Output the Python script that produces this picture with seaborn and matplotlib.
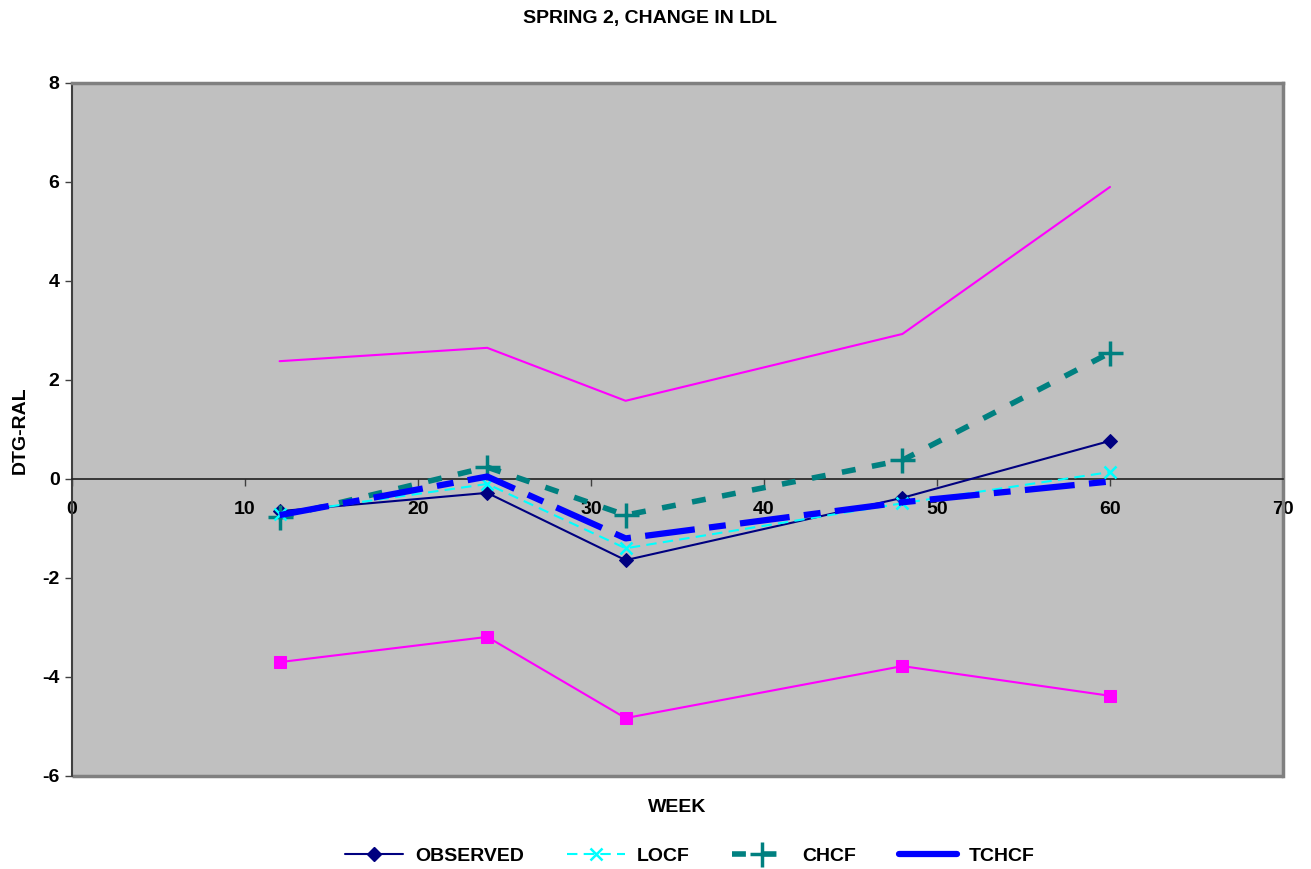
import matplotlib
matplotlib.use("Agg")
import matplotlib.pyplot as plt
import seaborn as sns
import pandas as pd
from matplotlib.patches import Rectangle
from matplotlib.lines import Line2D

weeks = [12, 24, 32, 48, 60]
observed = [-0.65, -0.28, -1.64, -0.38, 0.77]
locf = [-0.70, -0.10, -1.40, -0.49, 0.14]
chcf = [-0.77, 0.24, -0.73, 0.38, 2.55]
tchcf = [-0.73, 0.05, -1.20, -0.47, -0.05]
upper = [2.38, 2.65, 1.58, 2.93, 5.90]
lower = [-3.70, -3.19, -4.83, -3.78, -4.38]

title = "SPRING 2, CHANGE IN LDL"
xlabel = "WEEK"
ylabel = "DTG-RAL"
xticks = [0, 10, 20, 30, 40, 50, 60, 70]
yticks = [-6, -4, -2, 0, 2, 4, 6, 8]

sns.set_theme(style="white")
plt.rcParams['font.family'] = ['Liberation Sans', 'DejaVu Sans']
plt.rcParams['font.weight'] = 'bold'
plt.rcParams['text.color'] = 'black'
plt.rcParams['xtick.color'] = 'black'
plt.rcParams['ytick.color'] = 'black'

FS = 14

fig = plt.figure(figsize=(13.11, 8.69), dpi=100)
ax = fig.add_axes([72/1311, 1-776/869, (1283-72)/1311, (776-83)/869])
ax.set_facecolor('#C0C0C0')

ax.spines['bottom'].set_position(('data', 0))

df = pd.DataFrame({"week": weeks, "OBSERVED": observed, "LOCF": locf, "CHCF": chcf,
                   "TCHCF": tchcf, "UPPER": upper, "LOWER": lower})

sns.lineplot(data=df, x="week", y="UPPER", ax=ax, color='#FF00FF', lw=1.5, zorder=3)
sns.lineplot(data=df, x="week", y="LOWER", ax=ax, color='#FF00FF', lw=1.5, marker='s',
             markersize=9, markeredgecolor='#FF00FF', zorder=3)
sns.lineplot(data=df, x="week", y="OBSERVED", ax=ax, color='#000080', lw=1.5, marker='D',
             markersize=7, markeredgecolor='#000080', zorder=4)
sns.lineplot(data=df, x="week", y="LOCF", ax=ax, color='#00FFFF', lw=1.5, marker='x',
             markersize=9, markeredgewidth=1.8, markeredgecolor='#00FFFF',
             linestyle=(0, (5, 3)), zorder=5)
sns.lineplot(data=df, x="week", y="CHCF", ax=ax, color='#008080', lw=4, marker='+',
             markersize=18, markeredgewidth=2.5, markeredgecolor='#008080',
             linestyle=(0, (2.5, 3)), zorder=4)
sns.lineplot(data=df, x="week", y="TCHCF", ax=ax, color='#0000FF', lw=4.5,
             linestyle=(0, (8, 2.3, 2.7, 2.3)), zorder=6)

ax.set_xlim(0, 70)
ax.set_ylim(-6, 8)
ax.set_xticks(xticks)
ax.set_yticks(yticks)
ax.set_xticklabels([str(t) for t in xticks], fontsize=FS, fontweight='bold')
ax.set_yticklabels([str(t) for t in yticks], fontsize=FS, fontweight='bold')

ax.spines['bottom'].set_color('#202020')
ax.spines['bottom'].set_linewidth(1.2)
ax.spines['left'].set_color('#404040')
ax.spines['left'].set_linewidth(1.5)
for s in ['top', 'right']:
    ax.spines[s].set_color('#808080')
    ax.spines[s].set_linewidth(2.5)
ax.add_patch(Rectangle((0, 0), 1, 0.0, transform=ax.transAxes, fill=False,
                       edgecolor='#808080', lw=2.5, clip_on=False, zorder=1))
ax.tick_params(axis='both', direction='out', length=5, width=1, color='#404040',
               bottom=True, left=True)
ax.tick_params(axis='x', pad=11)
ax.tick_params(axis='y', pad=4)

ax.set_xlabel("")
ax.set_ylabel("")
fig.text(677/1311, 1-808/869, xlabel, ha='center', va='center', fontsize=FS, fontweight='bold')
fig.text(20/1311, 1-430/869, ylabel, ha='center', va='center', rotation=90, fontsize=FS, fontweight='bold')
fig.text(650/1311, 1-18/869, title, ha='center', va='center', fontsize=FS, fontweight='bold')

handles = [
    Line2D([], [], color='#000080', lw=1.5, marker='D', markersize=7),
    Line2D([], [], color='#00FFFF', lw=1.5, marker='x', markersize=9, markeredgewidth=1.8,
           linestyle=(0, (5, 3))),
    Line2D([], [], color='#008080', lw=4, marker='+', markersize=18, markeredgewidth=2.5,
           linestyle=(0, (2.5, 3))),
    Line2D([], [], color='#0000FF', lw=4.5),
]
fig.legend(handles, ["OBSERVED", "LOCF", "CHCF", "TCHCF"], loc='center', ncol=4,
           bbox_to_anchor=(690/1311, 1-856/869), frameon=False, handlelength=3,
           handletextpad=0.6, columnspacing=2.2, prop={'weight': 'bold', 'size': FS})

fig.savefig("out.png", dpi=100)
